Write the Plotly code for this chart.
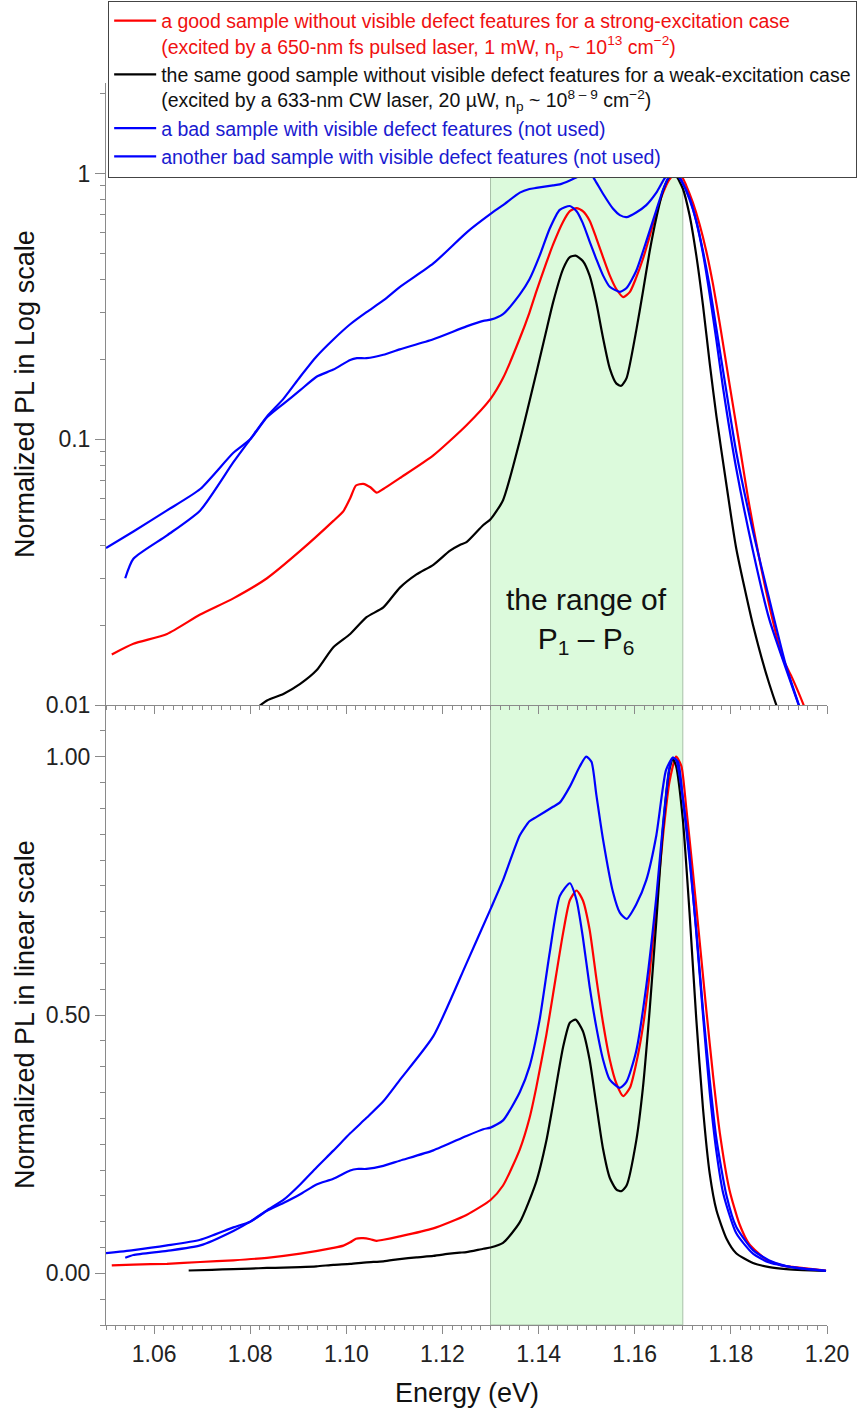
import plotly.graph_objects as go

# ---------------- data ----------------
E_red = [1.0512, 1.0557, 1.0627, 1.0696, 1.0765, 1.0835, 1.0904, 1.0973, 1.0994, 1.1008,
         1.1020, 1.1035, 1.1050, 1.1063, 1.1077, 1.1111, 1.1181, 1.1250, 1.1300, 1.1326,
         1.1361, 1.1381, 1.1395, 1.1416, 1.1430, 1.1451, 1.1465, 1.1479, 1.1492, 1.1506,
         1.1520, 1.1534, 1.1548, 1.1562, 1.1576, 1.1590, 1.1603, 1.1617, 1.1631, 1.1645,
         1.1659, 1.1672, 1.1686, 1.1697, 1.1707, 1.1721, 1.1735, 1.1749, 1.1763, 1.1777,
         1.1797, 1.1818, 1.1838, 1.1873, 1.1908, 1.1928, 1.1956, 1.1998]
I_red = [0.0155, 0.0170, 0.0185, 0.0219, 0.0252, 0.0300, 0.0380, 0.0493, 0.0537, 0.0600,
         0.0670, 0.0680, 0.0660, 0.0630, 0.0650, 0.0714, 0.0870, 0.1130, 0.1420, 0.1700,
         0.2400, 0.3000, 0.3590, 0.4610, 0.5400, 0.6590, 0.7220, 0.7410, 0.7220, 0.6660,
         0.5720, 0.4850, 0.4140, 0.3670, 0.3430, 0.3590, 0.4060, 0.4770, 0.5800, 0.7140,
         0.8480, 0.9500, 1.0000, 0.9820, 0.9030, 0.7770, 0.6430, 0.5090, 0.3820, 0.2720,
         0.1620, 0.0950, 0.0570, 0.0270, 0.0150, 0.0126, 0.0095, 0.0055]

E_black = [1.0672, 1.0720, 1.0765, 1.0800, 1.0835, 1.0869, 1.0904, 1.0938, 1.0973, 1.1008,
           1.1042, 1.1077, 1.1111, 1.1146, 1.1181, 1.1215, 1.1236, 1.1250, 1.1285, 1.1300,
           1.1326, 1.1361, 1.1395, 1.1416, 1.1430, 1.1451, 1.1465, 1.1477, 1.1492, 1.1506,
           1.1520, 1.1534, 1.1548, 1.1562, 1.1572, 1.1583, 1.1603, 1.1617, 1.1631, 1.1645,
           1.1659, 1.1672, 1.1679, 1.1686, 1.1700, 1.1714, 1.1728, 1.1742, 1.1756, 1.1770,
           1.1791, 1.1811, 1.1846, 1.1880, 1.1915, 1.1950, 1.1998]
I_black = [0.0055, 0.0068, 0.0082, 0.0093, 0.0104, 0.0110, 0.0120, 0.0135, 0.0165, 0.0185,
           0.0214, 0.0233, 0.0276, 0.0310, 0.0337, 0.0380, 0.0400, 0.0410, 0.0476, 0.0500,
           0.0590, 0.0990, 0.1770, 0.2560, 0.3270, 0.4380, 0.4850, 0.4910, 0.4690, 0.4140,
           0.3270, 0.2410, 0.1850, 0.1620, 0.1590, 0.1700, 0.2560, 0.3590, 0.5090, 0.6820,
           0.8640, 0.9740, 0.9960, 0.9820, 0.8790, 0.6980, 0.4930, 0.3190, 0.1930, 0.1220,
           0.0670, 0.0390, 0.0200, 0.0120, 0.0080, 0.0060, 0.0045]

E_blue_a = [1.0500, 1.0557, 1.0627, 1.0696, 1.0765, 1.0800, 1.0835, 1.0869, 1.0904, 1.0938,
            1.0973, 1.1008, 1.1022, 1.1042, 1.1077, 1.1111, 1.1181, 1.1250, 1.1285, 1.1300,
            1.1326, 1.1361, 1.1381, 1.1402, 1.1423, 1.1444, 1.1465, 1.1479, 1.1492, 1.1506,
            1.1520, 1.1534, 1.1548, 1.1569, 1.1583, 1.1603, 1.1624, 1.1645, 1.1659, 1.1672,
            1.1679, 1.1690, 1.1700, 1.1714, 1.1728, 1.1742, 1.1756, 1.1770, 1.1791, 1.1811,
            1.1846, 1.1880, 1.1915, 1.1950, 1.1998]
I_blue_a = [0.0390, 0.0450, 0.0540, 0.0650, 0.0890, 0.1000, 0.1210, 0.1360, 0.1530, 0.1720,
            0.1830, 0.1990, 0.2020, 0.2020, 0.2080, 0.2180, 0.2380, 0.2660, 0.2790, 0.2820,
            0.2960, 0.3510, 0.4000, 0.4900, 0.6200, 0.7300, 0.7550, 0.7220, 0.6510, 0.5560,
            0.4770, 0.4140, 0.3750, 0.3590, 0.3710, 0.4300, 0.5560, 0.7290, 0.8710, 0.9780,
            0.9980, 0.9900, 0.9200, 0.8000, 0.6650, 0.5100, 0.3750, 0.2600, 0.1500, 0.0900,
            0.0450, 0.0250, 0.0140, 0.0090, 0.0050]

E_blue_b = [1.0540, 1.0557, 1.0627, 1.0696, 1.0765, 1.0800, 1.0835, 1.0869, 1.0904, 1.0938,
            1.0973, 1.1008, 1.1042, 1.1077, 1.1111, 1.1181, 1.1250, 1.1300, 1.1326, 1.1361,
            1.1381, 1.1395, 1.1430, 1.1444, 1.1465, 1.1485, 1.1499, 1.1510, 1.1520, 1.1534,
            1.1555, 1.1569, 1.1583, 1.1603, 1.1624, 1.1645, 1.1665, 1.1679, 1.1686, 1.1700,
            1.1714, 1.1728, 1.1742, 1.1756, 1.1770, 1.1784, 1.1811, 1.1846, 1.1880, 1.1950,
            1.1998]
I_blue_b = [0.0300, 0.0355, 0.0435, 0.0540, 0.0820, 0.1000, 0.1220, 0.1420, 0.1720, 0.2050,
            0.2375, 0.2710, 0.3010, 0.3330, 0.3740, 0.4590, 0.6000, 0.7050, 0.7610, 0.8480,
            0.8750, 0.8830, 0.9030, 0.9110, 0.9420, 0.9800, 1.0000, 0.9900, 0.9270, 0.8400,
            0.7370, 0.6980, 0.6860, 0.7140, 0.7610, 0.8480, 0.9740, 0.9980, 0.9940, 0.9200,
            0.8100, 0.6600, 0.5000, 0.3500, 0.2350, 0.1550, 0.0780, 0.0380, 0.0210, 0.0090,
            0.0050]

names = [
    "<span style='color:#f01010'>a good sample without visible defect features for a strong-excitation case</span><br>"
    "<span style='color:#f01010'>(excited by a 650-nm fs pulsed laser, 1 mW, n<sub>p</sub> ~ 10<sup>13</sup> cm<sup>\u22122</sup>)</span>",
    "<span style='color:#111111'>the same good sample without visible defect features for a weak-excitation case</span><br>"
    "<span style='color:#111111'>(excited by a 633-nm CW laser, 20 \u00b5W, n<sub>p</sub> ~ 10<sup>8 \u2013 9</sup> cm<sup>\u22122</sup>)</span>",
    "<span style='color:#1a1ad0'>a bad sample with visible defect features (not used)</span>",
    "<span style='color:#1a1ad0'>another bad sample with visible defect features (not used)</span>",
]
colors = ["#ff0000", "#000000", "#0000ff", "#0000ff"]
xs = [E_red, E_black, E_blue_a, E_blue_b]
ys = [I_red, I_black, I_blue_a, I_blue_b]

FONT = "Liberation Sans, Arial, sans-serif"
AX = "#8a8a8a"

fig = go.Figure()
for x, y, c, n in zip(xs, ys, colors, names):
    ln = dict(color=c, width=2.2, shape="spline", smoothing=0.6)
    fig.add_trace(go.Scatter(x=x, y=y, mode="lines", name=n, line=ln,
                             xaxis="x", yaxis="y", showlegend=True))
    fig.add_trace(go.Scatter(x=x, y=y, mode="lines", name=n, line=ln,
                             xaxis="x2", yaxis="y2", showlegend=False))

split = 620 / 1242
xcommon = dict(range=[1.05, 1.20], tickmode="linear", tick0=1.06, dtick=0.02,
               ticks="outside", ticklen=8, tickwidth=1, tickcolor=AX,
               showline=True, linecolor=AX, linewidth=1, showgrid=False, zeroline=False,
               minor=dict(dtick=0.002, tick0=1.06, ticks="outside", ticklen=4, tickcolor=AX, showgrid=False))

log_minor = [0.02, 0.03, 0.04, 0.05, 0.06, 0.07, 0.08, 0.09,
             0.2, 0.3, 0.4, 0.5, 0.6, 0.7, 0.8, 0.9, 2]

fig.update_layout(
    width=868, height=1412,
    margin=dict(l=106, r=41, t=83, b=87, autoexpand=False),
    paper_bgcolor="white", plot_bgcolor="rgba(0,0,0,0)",
    font=dict(family=FONT, size=23, color="#222222"),
    xaxis=dict(anchor="y", domain=[0, 1], showticklabels=False, **xcommon),
    xaxis2=dict(anchor="y2", domain=[0, 1], showticklabels=True, tickformat=".2f",
                tickfont=dict(size=23), **xcommon),
    yaxis=dict(domain=[split, 1], anchor="x", type="log", range=[-2, 0.341],
               tickmode="array", tickvals=[0.01, 0.1, 1], ticktext=["0.01", "0.1", "1"],
               ticks="outside", ticklen=10, tickcolor=AX, showline=True, linecolor=AX,
               showgrid=False, zeroline=False,
               minor=dict(tickmode="array", tickvals=log_minor, ticks="outside", ticklen=5,
                          tickcolor=AX, showgrid=False)),
    yaxis3=dict(overlaying="y", anchor="x", side="right", type="log", range=[-2, 0.341],
                tickmode="array", tickvals=[0.01, 0.1, 1], showticklabels=False,
                ticks="inside", ticklen=8, tickcolor=AX, showline=True, linecolor=AX,
                showgrid=False, zeroline=False,
                minor=dict(tickmode="array", tickvals=log_minor, ticks="inside", ticklen=6,
                           tickcolor=AX, showgrid=False)),
    yaxis2=dict(domain=[0, split], anchor="x2", range=[-0.1, 1.1],
                tickmode="linear", tick0=0, dtick=0.5, tickformat=".2f",
                ticks="outside", ticklen=10, tickcolor=AX, showline=True, linecolor=AX,
                showgrid=False, zeroline=False,
                minor=dict(dtick=0.05, tick0=0, ticks="outside", ticklen=5, tickcolor=AX, showgrid=False)),
    yaxis4=dict(overlaying="y2", anchor="x2", side="right", range=[-0.1, 1.1],
                tickmode="linear", tick0=0, dtick=0.5, showticklabels=False,
                ticks="inside", ticklen=8, tickcolor=AX, showline=True, linecolor=AX,
                showgrid=False, zeroline=False,
                minor=dict(dtick=0.05, tick0=0, ticks="inside", ticklen=8, tickcolor=AX, showgrid=False)),
    legend=dict(x=0.003, y=1.0664, xanchor="left", yanchor="top",
                bgcolor="white", bordercolor="#444444", borderwidth=1,
                font=dict(family=FONT, size=19.5), itemwidth=42, valign="top",
                tracegroupgap=0),
    showlegend=True,
)

# shaded range of P1 - P6 (spans both panels)
fig.add_shape(type="rect", xref="x2", yref="paper", x0=1.13, x1=1.17, y0=0, y1=1,
              fillcolor="#dcfadc", line=dict(color="#a8c0a8", width=1), layer="below")

fig.add_annotation(text="the range of<br>P<sub>1</sub> \u2013 P<sub>6</sub>", xref="x2", yref="paper",
                   x=1.15, y=0.5668, showarrow=False, font=dict(size=30, color="#111111", family=FONT),
                   xanchor="center", yanchor="middle")
fig.add_annotation(text="Normalized PL in Log scale", xref="paper", yref="paper",
                   x=(25 - 106) / 721, y=(1325 - 394) / 1242, textangle=-90, showarrow=False,
                   font=dict(size=27, color="#111111", family=FONT), xanchor="center", yanchor="middle")
fig.add_annotation(text="Normalized PL in linear scale", xref="paper", yref="paper",
                   x=(25 - 106) / 721, y=(1325 - 1015) / 1242, textangle=-90, showarrow=False,
                   font=dict(size=27, color="#111111", family=FONT), xanchor="center", yanchor="middle")
fig.add_annotation(text="Energy (eV)", xref="paper", yref="paper",
                   x=0.5, y=(1325 - 1393) / 1242, showarrow=False,
                   font=dict(size=27, color="#111111", family=FONT), xanchor="center", yanchor="middle")

fig.write_html("out.html")
